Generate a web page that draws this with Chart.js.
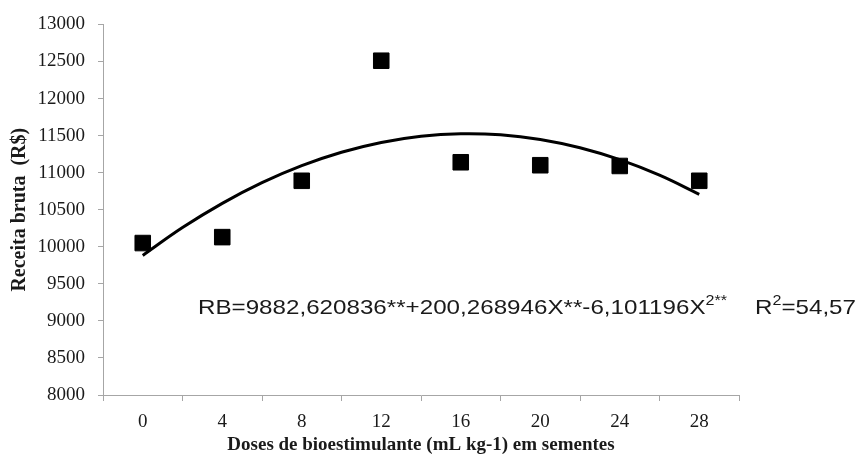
<!DOCTYPE html>
<html>
<head>
<meta charset="utf-8">
<script src="https://cdn.jsdelivr.net/npm/chart.js@4.4.1/dist/chart.umd.min.js"></script>
<style>
  html, body { margin: 0; padding: 0; background: #fff; }
  #wrap { width: 857px; height: 455px; position: relative; }
</style>
</head>
<body>
<div id="wrap"><canvas id="chart"></canvas></div>
<script>
// Receita bruta vs doses de bioestimulante
var doses = [0, 4, 8, 12, 16, 20, 24, 28];
var receita = [10050, 10130, 10890, 12510, 11140, 11100, 11090, 10890];

// fitted curve
var curveX = [0, 2, 4, 6, 8, 10, 12, 14, 16, 18, 20, 22, 24, 26, 28];
var curveY = [9883, 10259, 10586, 10865, 11094, 11275, 11407, 11491, 11525, 11511, 11448, 11336, 11175, 10965, 10707];

var yTicks = [8000, 8500, 9000, 9500, 10000, 10500, 11000, 11500, 12000, 12500, 13000];

var eqMain = ["RB=9882,620836**+200,268946X**-6,101196X", "2**"];
var eqR2 = ["R", "2", "=54,57"];

var AXIS = "#a6a6a6";
var TEXT = "#1a1a1a";
var SERIF = "'Liberation Serif', 'Times New Roman', serif";

var equationPlugin = {
  id: "equation",
  afterDraw: function (chart) {
    var ctx = chart.ctx;
    var big = "21px 'Liberation Sans', Arial, sans-serif";
    var small = "14px 'Liberation Sans', Arial, sans-serif";
    ctx.save();
    ctx.fillStyle = TEXT;
    ctx.textBaseline = "alphabetic";
    ctx.textAlign = "left";

    ctx.font = big;
    var w1 = ctx.measureText(eqMain[0]).width;
    ctx.font = small;
    var w2 = ctx.measureText(eqMain[1]).width;
    var sx = (727 - 198) / (w1 + w2);

    // first part
    ctx.save();
    ctx.translate(198, 314);
    ctx.scale(sx, 1);
    ctx.font = big;
    ctx.fillText(eqMain[0], 0, 0);
    ctx.font = small;
    ctx.fillText(eqMain[1], w1, -9);
    ctx.restore();

    // R² part, right aligned
    ctx.font = big;
    var r1 = ctx.measureText(eqR2[0]).width;
    var r3 = ctx.measureText(eqR2[2]).width;
    ctx.font = small;
    var r2 = ctx.measureText(eqR2[1]).width;
    var rw = (r1 + r2 + r3) * sx;
    ctx.save();
    ctx.translate(856 - rw, 314);
    ctx.scale(sx, 1);
    ctx.font = big;
    ctx.fillText(eqR2[0], 0, 0);
    ctx.fillText(eqR2[2], r1 + r2, 0);
    ctx.font = small;
    ctx.fillText(eqR2[1], r1, -9);
    ctx.restore();

    ctx.restore();
  }
};

var ctx = document.getElementById("chart").getContext("2d");
new Chart(ctx, {
  type: "scatter",
  data: {
    datasets: [
      {
        label: "Tendência",
        type: "line",
        data: curveX.map(function (x, i) { return { x: x, y: curveY[i] }; }),
        borderColor: "#000",
        borderWidth: 3,
        pointRadius: 0,
        tension: 0.4,
        fill: false,
        order: 0
      },
      {
        label: "Receita bruta",
        data: doses.map(function (x, i) { return { x: x, y: receita[i] }; }),
        backgroundColor: "#000",
        borderColor: "#000",
        borderWidth: 1,
        pointStyle: "rect",
        pointRadius: 11,
        pointHoverRadius: 11,
        order: 1
      }
    ]
  },
  options: {
    responsive: true,
    maintainAspectRatio: false,
    animation: false,
    layout: { padding: { left: 0, right: 118, top: 21, bottom: 0 } },
    plugins: {
      legend: { display: false },
      tooltip: { enabled: false }
    },
    scales: {
      x: {
        type: "linear",
        min: -2,
        max: 30,
        afterBuildTicks: function (scale) {
          scale.ticks = doses.map(function (v) { return { value: v }; });
        },
        afterFit: function (scale) { scale.height = 60; },
        border: { color: AXIS, width: 1 },
        grid: {
          offset: true,
          drawOnChartArea: false,
          drawTicks: true,
          tickLength: 6,
          color: AXIS
        },
        ticks: {
          padding: 10,
          maxRotation: 0,
          color: TEXT,
          font: { family: SERIF, size: 19 },
          callback: function (v) { return String(v); }
        },
        title: {
          display: true,
          text: "Doses de bioestimulante (mL kg-1) em sementes",
          color: TEXT,
          padding: { top: 0, bottom: -1 },
          font: { family: SERIF, size: 19, weight: "bold" }
        }
      },
      y: {
        min: 8000,
        max: 13000,
        afterBuildTicks: function (scale) {
          scale.ticks = yTicks.map(function (v) { return { value: v }; });
        },
        afterFit: function (scale) { scale.width = 103; },
        border: { color: AXIS, width: 1 },
        grid: {
          drawOnChartArea: false,
          drawTicks: true,
          tickLength: 5,
          color: AXIS
        },
        ticks: {
          padding: 13,
          color: TEXT,
          font: { family: SERIF, size: 19 },
          callback: function (v) { return String(v); }
        },
        title: {
          display: true,
          text: "Receita bruta  (R$)",
          color: TEXT,
          padding: { top: 8, bottom: 0 },
          font: { family: SERIF, size: 20, weight: "bold" }
        }
      }
    }
  },
  plugins: [equationPlugin]
});
</script>
</body>
</html>
